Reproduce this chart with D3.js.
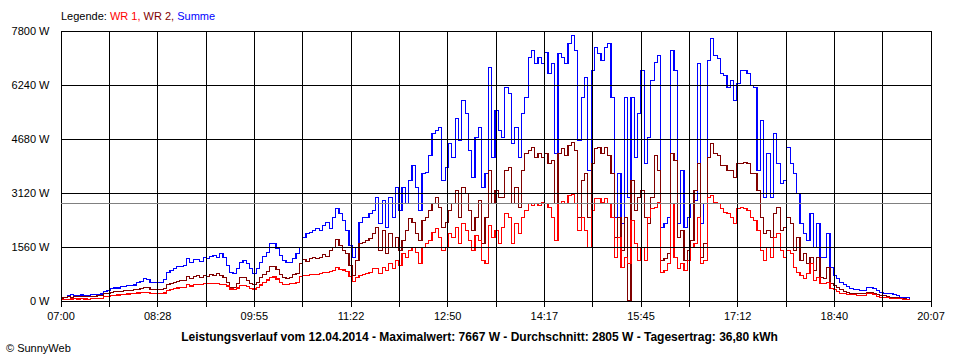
<!DOCTYPE html>
<html>
<head>
<meta charset="utf-8">
<script src="https://cdn.jsdelivr.net/npm/d3@7"></script>
<style>
  html, body { margin: 0; padding: 0; background: #fff; }
  svg { display: block; }
  text { font-family: "Liberation Sans", Arial, sans-serif; }
</style>
</head>
<body>
<svg id="chart" width="960" height="360"></svg>
<script>
// ---------------- DATA ----------------
const startTime = "07:00";          // first sample
const intervalMinutes = 3;          // sample spacing
const axisStart = "07:00";
const axisEnd = "20:07";
const xTickLabels = ["07:00","08:28","09:55","11:22","12:50","14:17","15:45","17:12","18:40","20:07"];
const yTickValues = [0, 1560, 3120, 4680, 6240, 7800];
const average = 2805;
const legendItems = ["WR 1", "WR 2", "Summe"];
const title = "Leistungsverlauf vom 12.04.2014 - Maximalwert: 7667 W - Durchschnitt: 2805 W - Tagesertrag: 36,80 kWh";

// WR 1 (W)
const wr1 = [
  25,30,40,45,50,45,50,45,40,50, 55,60,60,110,120,140,150,160,165,180,
  190,195,200,215,220,240,240,200,195,195, 200,215,290,310,340,360,370,375,460,420,
  470,470,455,480,
  480,490,480,490,470,470,420,330,310,360, 430,440,400,350,330,380,450,520,590,660,
  680,620,520,470,470,480,500,530,690,730, 720,740,760,750,770,800,810,830,860,950,
  900,880,830,700,560,
  674,722,741,770,799,915,915,770,963,867, 1059,915,1156,1011,1348,1252,1445,1541,1396,1059,
  1541,1637,1733,1974,2070,1830,1445,1541,1926,1830, 2119,1637,2215,2022,1733,1445,1878,1733,1156,1059,
  2167,1830,2022,1637,
  2119,2504,2408,1637,2215,1926,2408,2600,2793,2745, 2793,2745,2841,2793,2696,2408,1733,2793,2870,2793,
  3033,3062,2793,2022,2408,2022,1541,2600,2937,2937, 2841,2937,2793,2408,1252,1830,963,1252,1059,2311,
  1637,1156,1541,1156,
  2408,2648,2696,2841,819,867,1059,2793,1252,915, 1059,867,1156,1541,1637,2408,1059,1156,2985,3033,
  2841,2793,2648,2552,2504,2408,2215,2648,2696,2648, 2600,2408,2311,2022,1445,1156,1541,1252,1830,1926,
  1445,1252,1445,
  1348,963,819,722,626,770,1059,578,674,482, 482,530,337,308,270,212,193,173,164,164,
  154,154,154,193,193,173,116,96,87,77, 67,67,58,48,39,29,19
];

// WR 2 (W)
const wr2 = [
  72,87,105,95,115,105,125,115,125,125, 125,135,135,202,202,231,250,260,260,280,
  290,290,310,326,338,367,367,318,310,310, 318,347,453,482,520,557,578,578,693,645,
  702,713,673,722,
  693,751,722,770,722,673,530,385,366,500, 655,655,578,500,453,530,655,751,847,982,
  982,886,751,673,626,673,751,790,1060,1175, 1137,1204,1233,1204,1252,1329,1271,1445,1540,1753,
  1589,1445,1349,1011,722,
  1156,1637,1685,1733,1780,1926,2119,1445,2022,1348, 1926,1541,1830,1445,1733,2022,2359,2263,1926,1733,
  2311,2408,2600,2793,2985,2696,2119,2263,2600,2793, 3178,2408,3274,3082,2600,2022,2408,2889,1637,2408,
  3756,2793,3178,2985,
  2985,3756,3852,2793,3274,2696,3756,4237,4334,4430, 4141,4237,4141,4237,3948,4045,2793,4237,4382,4189,
  4478,4574,4334,2408,3467,3659,2408,3948,4382,4430, 4237,4430,4189,3659,1830,2408,1445,2408,0,3467,
  2600,2985,3178,2408,
  2215,2985,4189,3756,1156,1204,1348,4237,4045,1830, 2022,1156,1445,1733,3178,3948,1252,1637,4141,4526,
  4237,4189,3900,3900,3756,3756,3563,3948,3948,3996, 3948,3659,3659,3178,2408,1926,2022,1830,2504,2696,
  2022,2119,2408,
  2215,1445,1830,1156,1348,1059,1252,867,1252,674, 626,963,501,433,366,308,270,241,212,193,
  193,193,193,241,241,212,173,144,135,116, 96,96,77,58,48,39,19
];

// Summe (W)
const summe = [
  95,95,145,165,145,130,160,145,130,174, 174,165,185,270,290,356,360,360,404,404,
  433,433,450,530,550,625,600,530,520,520, 530,615,818,876,925,982,990,1000,1204,1098,
  1175,1185,1127,1233,
  1204,1271,1300,1252,1349,1252,1011,818,770,915, 1107,1156,1060,915,790,915,1107,1271,1396,1655,
  1655,1493,1300,1156,1089,1107,1204,1349,1540,1811, 1926,1974,2022,2070,2022,2167,2262,2070,2407,2648,
  2504,2311,2022,1589,1233,
  1541,2263,2388,2408,2523,2600,2985,2215,2889,2119, 2985,2408,3274,2600,3274,2793,3467,3900,3274,2600,
  3659,3708,4189,4815,4911,5008,3467,3852,4526,4141, 5248,4622,5778,5393,4334,3563,4719,5008,3274,3659,
  6741,4141,5489,4911,
  4719,6163,5971,4526,5008,4141,5393,5874,7030,7223, 6837,7030,6837,7174,6548,6837,4237,7126,7030,6837,
  7415,7667,7223,4622,5874,6452,3756,6645,7319,7126, 6934,7319,7415,5874,2408,3659,2215,5874,2985,5874,
  4141,5393,6645,3948,
  4719,6356,6885,7078,2119,2215,2408,7223,6645,2215, 3756,2119,2408,2793,2889,6837,2215,2793,6934,7560,
  7078,6982,6548,6500,6163,6356,5778,6260,6645,6645, 6548,6211,6163,3756,5200,2985,4237,2985,4815,3948,
  3370,3467,4430,
  3948,3659,3082,2215,1926,1733,2504,1541,2215,1252, 1252,1926,963,722,626,530,462,404,337,308,
  308,289,289,366,385,337,289,241,212,193, 193,173,144,96,96,77,48
];

// ---------------- CHART ----------------
(function () {
  const toMin = s => { const [h, m] = s.split(":").map(Number); return h * 60 + m; };
  const t0 = toMin(startTime);
  const domStart = toMin(axisStart), domEnd = toMin(axisEnd);

  const pL = 60.5, pR = 930.5, pT = 30.5, pB = 300.5;
  const svg = d3.select("#chart");
  const FONT = "'Liberation Sans', Arial, sans-serif";

  const x = d3.scaleLinear().domain([domStart, domEnd]).range([pL, pR]);
  const y = d3.scaleLinear().domain([0, 7800]).range([pB, pT]);

  const series = [
    { name: "Summe", values: summe, color: "#0000ff" },
    { name: "WR 2", values: wr2, color: "#800000" },
    { name: "WR 1", values: wr1, color: "#ff0000" }
  ];

  const line = d3.line()
    .x((d, i) => x(t0 + i * intervalMinutes))
    .y(d => y(d))
    .curve(d3.curveStepAfter);

  const gLines = svg.append("g");
  series.forEach(s => {
    gLines.append("path")
      .datum(s.values)
      .attr("d", line)
      .attr("fill", "none")
      .attr("stroke", s.color)
      .attr("stroke-width", 1.2)
      .attr("shape-rendering", "crispEdges");
  });

  // x axis (grid + ticks)
  const nGrid = (xTickLabels.length - 1) * 2;
  const gridVals = d3.range(nGrid + 1).map(k => domStart + k * (domEnd - domStart) / nGrid);
  const xAxis = d3.axisBottom(x)
    .tickValues(gridVals)
    .tickSizeInner(6).tickSizeOuter(0).tickPadding(6)
    .tickFormat((d, i) => i % 2 === 0 ? xTickLabels[i / 2] : "");
  const gx = svg.append("g").attr("transform", `translate(0,${pB})`).call(xAxis);
  gx.select(".domain").remove();
  gx.selectAll(".tick line").attr("y1", pT - pB).attr("stroke", "#000").attr("shape-rendering", "crispEdges");
  gx.selectAll(".tick text").attr("font-size", 11).attr("fill", "#000").attr("font-family", FONT);

  // y axis (grid + ticks)
  const yAxis = d3.axisLeft(y)
    .tickValues(yTickValues)
    .tickSizeInner(5).tickSizeOuter(0).tickPadding(6)
    .tickFormat(d => d + " W");
  const gy = svg.append("g").attr("transform", `translate(${pL},0)`).call(yAxis);
  gy.select(".domain").remove();
  gy.selectAll(".tick line").attr("x2", pR - pL).attr("stroke", "#000").attr("shape-rendering", "crispEdges");
  gy.selectAll(".tick text").attr("font-size", 11).attr("fill", "#000").attr("font-family", FONT);

  // average line
  const ya = Math.round(y(average)) + 0.5;
  svg.append("line")
    .attr("x1", pL).attr("x2", pR).attr("y1", ya).attr("y2", ya)
    .attr("stroke", "#808080").attr("stroke-width", 1).attr("shape-rendering", "crispEdges");

  // legend
  const legendColors = { "WR 1": "#ff0000", "WR 2": "#800000", "Summe": "#0000ff" };
  const leg = svg.append("text").attr("x", 61).attr("y", 20).attr("font-size", 11).attr("font-family", FONT);
  leg.append("tspan").attr("fill", "#000").text("Legende: ");
  legendItems.forEach((n, i) => {
    leg.append("tspan").attr("fill", legendColors[n]).text(n + (i < legendItems.length - 1 ? ", " : ""));
  });

  // title
  const tt = svg.append("text").attr("x", 479.5).attr("y", 341).attr("text-anchor", "middle")
    .attr("font-size", 12).attr("font-weight", "bold").attr("fill", "#000").attr("font-family", FONT).text(title);
  const len = tt.node().getComputedTextLength();
  if (len > 607) tt.attr("textLength", 607).attr("lengthAdjust", "spacingAndGlyphs");

  // copyright
  svg.append("text").attr("x", 6).attr("y", 352).attr("font-size", 11).attr("fill", "#000")
    .attr("font-family", FONT).text("© SunnyWeb");
})();
</script>
</body>
</html>
